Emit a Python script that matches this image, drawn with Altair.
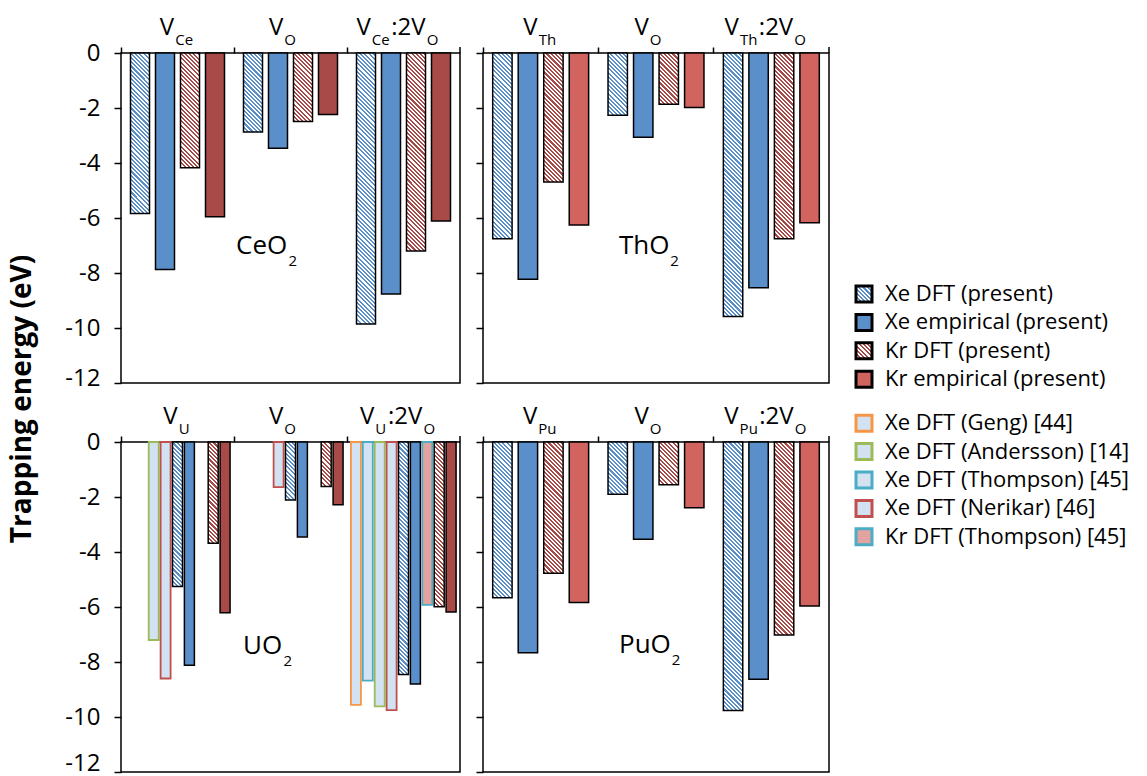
import altair as alt

FONT = "Open Sans"

# ---------------- data (trapping energies, eV) ----------------
GROUPS = ["g1", "g2", "g3"]          # V_M, V_O, V_M:2V_O

CE_XE_DFT = [-5.84, -2.87, -9.85]
CE_XE_EMP = [-7.87, -3.46, -8.76]
CE_KR_DFT = [-4.17, -2.49, -7.20]
CE_KR_EMP = [-5.95, -2.24, -6.11]

TH_XE_DFT = [-6.75, -2.26, -9.58]
TH_XE_EMP = [-8.23, -3.06, -8.54]
TH_KR_DFT = [-4.69, -1.86, -6.75]
TH_KR_EMP = [-6.25, -1.98, -6.17]

U_GENG = [None, None, -9.56]
U_THOMPSON_XE = [None, None, -8.68]
U_ANDERSSON = [-7.20, None, -9.61]
U_NERIKAR = [-8.60, -1.64, -9.75]
U_XE_DFT = [-5.25, -2.11, -8.45]
U_XE_EMP = [-8.12, -3.45, -8.80]
U_THOMPSON_KR = [None, None, -5.92]
U_KR_DFT = [-3.68, -1.62, -5.99]
U_KR_EMP = [-6.21, -2.28, -6.18]

PU_XE_DFT = [-5.66, -1.90, -9.76]
PU_XE_EMP = [-7.66, -3.54, -8.63]
PU_KR_DFT = [-4.77, -1.55, -7.02]
PU_KR_EMP = [-5.84, -2.39, -5.96]

Y_TICKS = [0, -2, -4, -6, -8, -10, -12]

LEGEND_LABELS = [
    "Xe DFT (present)", "Xe empirical (present)", "Kr DFT (present)", "Kr empirical (present)",
    "Xe DFT (Geng) [44]", "Xe DFT (Andersson) [14]", "Xe DFT (Thompson) [45]",
    "Xe DFT (Nerikar) [46]", "Kr DFT (Thompson) [45]",
]
LEGEND_POS = [0, 1, 2, 3, 4.55, 5.55, 6.55, 7.55, 8.55]

# ---------------- styles ----------------
BLUE = "#5B8FC9"
RED_DARK = "#A84B48"
RED_CORAL = "#D1645F"
LIT_FILL = "#D3E2F3"
KR_LIT_FILL = "#E3A3A1"
ORANGE = "#F79646"
GREEN = "#9BBB59"
TEAL = "#4BACC6"
LITRED = "#C0504D"

H = 330
W_L = 339
W_R = 346

EM = {'V': 0.579, 'C': 0.634, 'e': 0.561, 'O': 0.781, 'T': 0.541, 'h': 0.614,
      'U': 0.742, 'P': 0.595, 'u': 0.614, ':': 0.266, '2': 0.572}


def tw(txt, size):
    return sum(EM.get(c, 0.6) for c in txt) * size


def hatch(color, w, h, period=4.2, duty=0.5, bg="#ffffff"):
    """diagonal stripes as a hard-stop linear gradient in bounding box units"""
    L = w + h
    t = (1.0 / h + 1.0 / w) / (1.0 / h ** 2 + 1.0 / w ** 2)
    x2 = t / h
    y2 = 1.0 - t / w
    stops = []
    pos = 0.0
    on = True
    while pos < L - 1e-9:
        seg = period * duty if on else period * (1 - duty)
        end = min(pos + seg, L)
        c = color if on else bg
        stops.append({"offset": round(pos / L, 5), "color": c})
        stops.append({"offset": round(end / L, 5), "color": c})
        pos = end
        on = not on
    return {"gradient": "linear", "x1": 0, "y1": 1, "x2": round(x2, 5), "y2": round(y2, 5), "stops": stops}


def panel(el, formula, series, W, show_labels, label_left, label_base, last_off=-5, extra=None):
    domain = [s[0] for s in series]
    n = len(domain)
    pi, po = (0.24, 0.38) if n == 4 else (0.16, 0.33)
    B = W / 3.0
    step = B / (n - pi + 2 * po)
    bw = step * (1 - pi)
    rows = []
    for key, vals, kind, color, stroke, sw in series:
        for g, v in zip(GROUPS, vals):
            if v is None:
                continue
            hpx = abs(v) * H / 12.0
            fill = hatch(color, bw, hpx) if kind == "hatch" else color
            rows.append({"g": g, "s": key, "v": v, "fill": fill, "stroke": stroke, "sw": sw})

    xenc = alt.X("g:N", scale=alt.Scale(domain=GROUPS, paddingInner=0, paddingOuter=0),
                 axis=alt.Axis(orient="top", labels=False, title=None, domain=False, ticks=True,
                               tickSize=6, tickWidth=1.5, tickColor="black", bandPosition=0, grid=False))
    yenc = alt.Y("v:Q", scale=alt.Scale(domain=[-12, 0], nice=False), stack=None,
                 axis=alt.Axis(values=Y_TICKS, labels=show_labels, labelExpr="'' + datum.value",
                               labelFontSize=24, labelFont=FONT, labelColor="black", labelPadding=14,
                               labelOffset=alt.condition("datum.value == -12", alt.value(last_off), alt.value(0)),
                               tickSize=7, tickWidth=1.5, tickColor="black", domain=False,
                               grid=False, title=None))

    bars = alt.Chart(alt.Data(values=rows)).mark_bar().encode(
        x=xenc,
        xOffset=alt.XOffset("s:N", scale=alt.Scale(domain=domain, paddingInner=pi, paddingOuter=po)),
        y=yenc,
        fill=alt.Fill("fill:N", scale=None),
        stroke=alt.Stroke("stroke:N", scale=None),
        strokeWidth=alt.StrokeWidth("sw:Q", scale=None),
    )

    end_tick = alt.Chart(alt.Data(values=[{"g": "g3"}])).mark_rule(
        color="black", strokeWidth=1.5).encode(x=alt.value(W), y=alt.value(0), y2=alt.value(-6))

    layers = [bars, end_tick]

    def txt(g, t, size, dx, ypix):
        return alt.Chart(alt.Data(values=[{"g": g, "t": t}])).mark_text(
            align="left", baseline="alphabetic", fontSize=size, dx=dx, font=FONT, color="black"
        ).encode(x=xenc, text="t:N", y=alt.value(ypix))

    headers = [
        [("V", 24, 0), (el, 15, 1)],
        [("V", 24, 0), ("O", 15, 1)],
        [("V", 24, 0), (el, 15, 1), (":2V", 24, 0), ("O", 15, 1)],
    ]
    shifts = [-1, -8, -6]
    for g, segs, sh in zip(GROUPS, headers, shifts):
        total = sum(tw(s, sz) for s, sz, _ in segs) + 1.5 * (len(segs) - 1)
        x = -total / 2.0 + sh
        for s, sz, sub in segs:
            layers.append(txt(g, s, sz, x, -8 if sub else -18))
            x += tw(s, sz) + 1.5

    # compound label, e.g. CeO2
    dx0 = label_left - 1.5 * B
    layers.append(txt("g2", formula, 26, dx0, label_base))
    layers.append(txt("g2", "2", 15, dx0 + tw(formula, 26) + 1, label_base + 12))

    if extra:
        layers.extend(extra)

    out = alt.layer(*layers).properties(
        width=W, height=H, view=alt.ViewBackground(stroke="black", strokeWidth=1.5))
    return out


def present(xd, xe, kd, ke, kr_emp_color):
    return [
        ("xe_dft", xd, "hatch", BLUE, "black", 1.5),
        ("xe_emp", xe, "solid", BLUE, "black", 1.5),
        ("kr_dft", kd, "hatch", RED_DARK, "black", 1.5),
        ("kr_emp", ke, "solid", kr_emp_color, "black", 1.5),
    ]


# y-axis title (placed to the left of the first panel)
title_layer = alt.Chart(alt.Data(values=[{"t": "Trapping energy (eV)"}])).mark_text(
    angle=270, fontSize=28, fontWeight="bold", font=FONT, align="center", baseline="middle", color="black"
).encode(text="t:N", x=alt.value(-98), y=alt.value(346))

# legend (placed to the right of the top-right panel)
SW = 16
leg_styles = [
    (hatch(BLUE, SW, SW), "black"), (BLUE, "black"), (hatch(RED_DARK, SW, SW), "black"), (RED_CORAL, "black"),
    (LIT_FILL, ORANGE), (LIT_FILL, GREEN), (LIT_FILL, TEAL), (LIT_FILL, LITRED), (KR_LIT_FILL, TEAL),
]
leg_rows = [{"label": lab, "pos": p, "fill": f, "stroke": s}
            for lab, p, (f, s) in zip(LEGEND_LABELS, LEGEND_POS, leg_styles)]
d0 = -241 / 28.4
d1 = d0 + H / 28.4
leg_y = alt.Y("pos:Q", scale=alt.Scale(domain=[d0, d1], reverse=True, nice=False, zero=False), axis=None)
leg_sym = alt.Chart(alt.Data(values=leg_rows)).mark_point(
    shape="square", filled=True, size=SW * SW, strokeWidth=3, opacity=1
).encode(x=alt.value(W_R + 35), y=leg_y, fill=alt.Fill("fill:N", scale=None),
         stroke=alt.Stroke("stroke:N", scale=None))
leg_txt = alt.Chart(alt.Data(values=leg_rows)).mark_text(
    align="left", baseline="middle", fontSize=22, font=FONT, color="black"
).encode(x=alt.value(W_R + 56), y=leg_y, text="label:N")

ce = panel("Ce", "CeO", present(CE_XE_DFT, CE_XE_EMP, CE_KR_DFT, CE_KR_EMP, RED_DARK),
           W_L, True, 115, 201, extra=[title_layer])
th = panel("Th", "ThO", present(TH_XE_DFT, TH_XE_EMP, TH_KR_DFT, TH_KR_EMP, RED_CORAL),
           W_R, False, 136, 201, extra=[leg_sym, leg_txt]).resolve_scale(y="independent")
u_series = [
    ("geng", U_GENG, "solid", LIT_FILL, ORANGE, 1.8),
    ("thompson_xe", U_THOMPSON_XE, "solid", LIT_FILL, TEAL, 1.8),
    ("andersson", U_ANDERSSON, "solid", LIT_FILL, GREEN, 1.8),
    ("nerikar", U_NERIKAR, "solid", LIT_FILL, LITRED, 1.8),
    ("xe_dft", U_XE_DFT, "hatch", BLUE, "black", 1.5),
    ("xe_emp", U_XE_EMP, "solid", BLUE, "black", 1.5),
    ("thompson_kr", U_THOMPSON_KR, "solid", KR_LIT_FILL, TEAL, 1.8),
    ("kr_dft", U_KR_DFT, "hatch", RED_DARK, "black", 1.5),
    ("kr_emp", U_KR_EMP, "solid", RED_DARK, "black", 1.5),
]
uo = panel("U", "UO", u_series, W_L, True, 122, 212, last_off=-9)
pu = panel("Pu", "PuO", present(PU_XE_DFT, PU_XE_EMP, PU_KR_DFT, PU_KR_EMP, RED_CORAL),
           W_R, False, 136, 211)

chart = alt.concat(ce, th, uo, pu, columns=2, spacing={"row": 59, "column": 23},
                   bounds="flush", align="each").resolve_scale(
    x="independent", xOffset="independent", y="independent"
).properties(
    padding={"left": 0, "top": 7, "right": 0, "bottom": 0}
).configure(font=FONT).configure_view(stroke="transparent")

chart.save("out.html", embed_options={"renderer": "svg", "actions": False})
